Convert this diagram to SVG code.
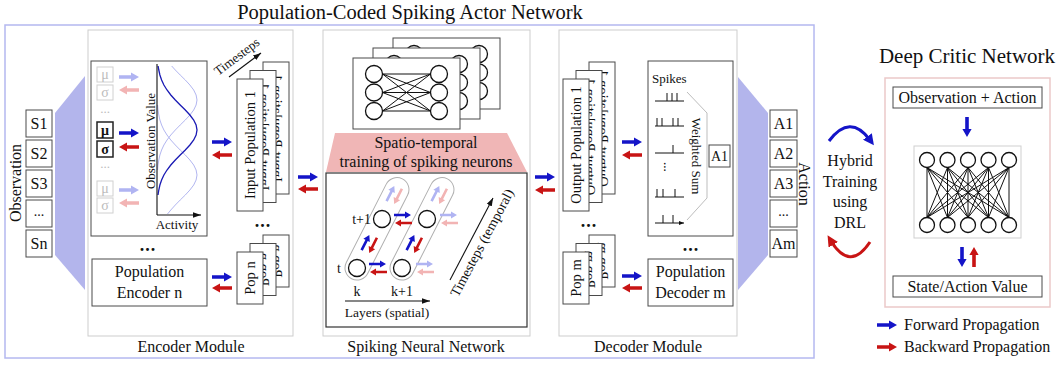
<svg xmlns="http://www.w3.org/2000/svg" width="1063" height="366" viewBox="0 0 1063 366">
<defs>
<style>
text{font-family:"Liberation Serif","Times New Roman",serif;fill:#111;font-size:16px}
.m{text-anchor:middle}
.e{text-anchor:end}
.bx{fill:#fff;stroke:#4a4a4a;stroke-width:1}
.mod{fill:none;stroke:#cdcdcd;stroke-width:1}
.lav{fill:#b3b5ec}
.b{fill:#1414c8}
.r{fill:#c81414}
.fb{fill:#b0b4f2}
.fr{fill:#f2b4b4}
.ax{stroke:#111;stroke-width:1.1;fill:none;marker-end:url(#mk)}
.s13{font-size:13px}
.s14{font-size:14px}
.pop{font-size:14.5px}
.nc{fill:#fff;stroke:#111;stroke-width:1.3}
.nl{stroke:#111;stroke-width:1;fill:none}
.fade{fill:#fff;stroke:#d0d0d0}
.ft{fill:#bcbcbc}
.dots{font-size:18px;font-weight:bold;letter-spacing:1px}
.gd{fill:none;stroke:#1a1ab4;stroke-width:1.3}
.gf{fill:none;stroke:#b2b6f0;stroke-width:1}
</style>
<path id="ar" d="M0,-1.8H12V-4.6L20,0L12,4.6V1.8H0Z"/>
<path id="as" d="M0,-1.3H11V-3.6L17,0L11,3.6V1.3H0Z"/>
<marker id="mk" viewBox="0 0 10 10" refX="10" refY="5" markerWidth="8" markerHeight="8" orient="auto" markerUnits="userSpaceOnUse"><path d="M0,1.5L10,5L0,8.5Z" fill="#111"/></marker>
<marker id="ms" viewBox="0 0 10 10" refX="10" refY="5" markerWidth="5" markerHeight="5" orient="auto" markerUnits="userSpaceOnUse"><path d="M0,1L10,5L0,9Z" fill="#111"/></marker>
<marker id="mb" viewBox="0 0 10 10" refX="4" refY="5" markerWidth="11" markerHeight="11" orient="auto" markerUnits="userSpaceOnUse"><path d="M0,0L10,5L0,10Z" fill="#1414c8"/></marker>
<marker id="mr" viewBox="0 0 10 10" refX="4" refY="5" markerWidth="11" markerHeight="11" orient="auto" markerUnits="userSpaceOnUse"><path d="M0,0L10,5L0,10Z" fill="#c81414"/></marker>
<g id="card">
<rect class="bx" x="0" y="0" width="107" height="71"/>
<path class="nl" d="M29.5,16L77.5,16M29.5,16L77.5,34.5M29.5,16L77.5,53M29.5,34.5L77.5,16M29.5,34.5L77.5,34.5M29.5,34.5L77.5,53M29.5,53L77.5,16M29.5,53L77.5,34.5M29.5,53L77.5,53"/>
<circle class="nc" cx="21" cy="16" r="8.5"/><circle class="nc" cx="21" cy="34.5" r="8.5"/><circle class="nc" cx="21" cy="53" r="8.5"/>
<circle class="nc" cx="86" cy="16" r="8.5"/><circle class="nc" cx="86" cy="34.5" r="8.5"/><circle class="nc" cx="86" cy="53" r="8.5"/>
</g>
</defs>
<rect x="0" y="0" width="1063" height="366" fill="#fff"/>

<text class="m" x="410" y="19" style="font-size:20.5px">Population-Coded Spiking Actor Network</text>
<rect x="5" y="25" width="809" height="333" fill="none" stroke="#b4b8f0" stroke-width="1.5"/>

<g id="observation">
<text class="m" transform="translate(21,183) rotate(-90)">Observation</text>
<rect class="bx" x="26" y="110" width="26" height="27"/><text class="m" x="39" y="129">S1</text>
<rect class="bx" x="26" y="140" width="26" height="27"/><text class="m" x="39" y="159">S2</text>
<rect class="bx" x="26" y="170" width="26" height="27"/><text class="m" x="39" y="189">S3</text>
<rect class="bx" x="26" y="200" width="26" height="27"/><text class="m s14" x="39" y="216">...</text>
<rect class="bx" x="26" y="230" width="26" height="27"/><text class="m" x="39" y="249">Sn</text>
<polygon class="lav" points="55,113 85,76 85,290 55,255"/>
</g>

<g id="encoder-module">
<rect class="mod" x="88" y="30" width="205" height="306"/>
<text class="m" x="191" y="352">Encoder Module</text>
</g>

<g id="population-encoder-1">
<rect class="bx" x="91" y="61" width="116" height="175"/>
<rect class="fade" x="97" y="67" width="16" height="15"/><text class="m s14 ft" x="105" y="79">μ</text>
<rect class="fade" x="97" y="85" width="16" height="15"/><text class="m s14 ft" x="105" y="97">σ</text>
<text class="m s13 ft" x="105" y="113">...</text>
<rect x="97" y="122" width="16" height="16" fill="#fff" stroke="#222" stroke-width="1.5"/><text class="m s14" x="105" y="135" font-weight="bold">μ</text>
<rect x="97" y="141" width="16" height="16" fill="#fff" stroke="#222" stroke-width="1.5"/><text class="m s14" x="105" y="154" font-weight="bold">σ</text>
<text class="m s13 ft" x="105" y="168">...</text>
<rect class="fade" x="97" y="181" width="16" height="15"/><text class="m s14 ft" x="105" y="193">μ</text>
<rect class="fade" x="97" y="198" width="16" height="15"/><text class="m s14 ft" x="105" y="210">σ</text>
<use href="#ar" class="fb" transform="translate(119,77)"/>
<use href="#ar" class="fr" transform="translate(139,90) rotate(180)"/>
<use href="#ar" class="b" transform="translate(119,133)"/>
<use href="#ar" class="r" transform="translate(139,147) rotate(180)"/>
<use href="#ar" class="fb" transform="translate(119,190)"/>
<use href="#ar" class="fr" transform="translate(139,203) rotate(180)"/>
<polyline class="gf" points="171.7,66 175.3,70 180.2,75 185.3,80 189.9,85 193.7,90 196.1,95 197,100 196.1,105 193.7,110 189.9,115 185.3,120 180.2,125 175.3,130 170.8,135 167,140 163.9,145 161.6,150 159.9,155 158.8,160 158,165 157.6,170"/>
<polyline class="gf" points="157.6,105 158,110 158.8,115 159.9,120 161.6,125 163.9,130 167,135 170.8,140 175.3,145 180.2,150 185.3,155 189.9,160 193.7,165 196.1,170 197,175 196.1,180 193.7,185 189.9,190 185.3,195 180.2,200 175.3,205 170.8,210 167.5,214"/>
<polyline class="gd" points="158.1,66 158.8,70 159.9,75 161.6,80 163.9,85 167,90 170.8,95 175.3,100 180.2,105 185.3,110 189.9,115 193.7,120 196.1,125 197,130 196.1,135 193.7,140 189.9,145 185.3,150 180.2,155 175.3,160 170.8,165 167,170 163.9,175 161.6,180 159.9,185 158.8,190 158,195"/>
<path d="M157,64V215" stroke="#111" stroke-width="1.1" fill="none"/>
<path class="ax" d="M157,215H201"/>
<text class="m s13" transform="translate(155,141) rotate(-90)">Observation Value</text>
<text class="m s13" x="177" y="229">Activity</text>
</g>

<g id="input-population-1">
<rect class="bx" x="263" y="62" width="26" height="132"/>
<text class="m pop" transform="translate(271.5,128) scale(-1,1) rotate(-90)">Input Population 1</text>
<rect class="bx" x="250" y="70.5" width="26" height="132"/>
<text class="m pop" transform="translate(258.5,136.5) scale(-1,1) rotate(-90)">Input Population 1</text>
<rect class="bx" x="237" y="79" width="26" height="132"/>
<text class="m pop" transform="translate(255,145) rotate(-90)">Input Population 1</text>
<text class="m s13" transform="translate(239.5,60) rotate(-37)">Timesteps</text>
<path class="ax" d="M229,77L261,53"/>
</g>

<g id="encoder-dots">
<text class="m dots" x="263" y="227">...</text>
<text class="m dots" x="148" y="251">...</text>
</g>

<g id="population-encoder-n">
<rect class="bx" x="92" y="259" width="115" height="47"/>
<text class="m" x="149.5" y="277">Population</text>
<text class="m" x="149.5" y="298">Encoder n</text>
</g>

<g id="pop-n">
<rect class="bx" x="263" y="235" width="26" height="52"/>
<text class="m pop" transform="translate(271.5,261) scale(-1,1) rotate(-90)">Pop n</text>
<rect class="bx" x="250" y="243.5" width="26" height="52"/>
<text class="m pop" transform="translate(258.5,269.5) scale(-1,1) rotate(-90)">Pop n</text>
<rect class="bx" x="237" y="252" width="26" height="52"/>
<text class="m pop" transform="translate(255,278) rotate(-90)">Pop n</text>
</g>

<g id="snn-module">
<rect class="mod" x="323" y="30" width="207" height="306"/>
<text class="m" x="426" y="352">Spiking Neural Network</text>
</g>

<g id="network-cards">
<use href="#card" x="393" y="38"/>
<use href="#card" x="373" y="48"/>
<use href="#card" x="353" y="58"/>
</g>

<g id="spatio-temporal-training">
<polygon points="335,133 507,133 527,172 326,172" fill="#f0b6b6"/>
<text class="m" x="426" y="148">Spatio-temporal</text>
<text class="m" x="426" y="167">training of spiking neurons</text>
</g>

<g id="snn-unrolled">
<rect x="326" y="173" width="201" height="154" fill="#fff" stroke="#333" stroke-width="1.2"/>
<g transform="translate(357,268) rotate(27)">
<rect x="-12" y="-100" width="24" height="112" rx="12" fill="none" stroke="#b0b0b0"/>
<use href="#as" class="b" transform="translate(-4,-18) rotate(-90)"/>
<use href="#as" class="r" transform="translate(4,-36) rotate(90)"/>
<use href="#as" class="fb" transform="translate(-4,-73) rotate(-90)"/>
<use href="#as" class="fr" transform="translate(4,-91) rotate(90)"/>
</g>
<g transform="translate(402,268) rotate(27)">
<rect x="-12" y="-100" width="24" height="112" rx="12" fill="none" stroke="#b0b0b0"/>
<use href="#as" class="b" transform="translate(-4,-18) rotate(-90)"/>
<use href="#as" class="r" transform="translate(4,-36) rotate(90)"/>
<use href="#as" class="fb" transform="translate(-4,-73) rotate(-90)"/>
<use href="#as" class="fr" transform="translate(4,-91) rotate(90)"/>
</g>
<circle class="nc" cx="357" cy="268" r="8.5" stroke-width="1.5"/>
<circle class="nc" cx="402" cy="268" r="8.5" stroke-width="1.5"/>
<circle class="nc" cx="382" cy="219" r="8.5" stroke-width="1.5"/>
<circle class="nc" cx="427" cy="219" r="8.5" stroke-width="1.5"/>
<use href="#as" class="b" transform="translate(369,264)"/>
<use href="#as" class="r" transform="translate(387,272) rotate(180)"/>
<use href="#as" class="b" transform="translate(394,215)"/>
<use href="#as" class="r" transform="translate(412,223) rotate(180)"/>
<use href="#as" class="fb" transform="translate(416,264)"/>
<use href="#as" class="fr" transform="translate(434,272) rotate(180)"/>
<use href="#as" class="fb" transform="translate(440,215)"/>
<use href="#as" class="fr" transform="translate(458,223) rotate(180)"/>
<text class="e s14" x="371" y="224">t+1</text>
<text class="m s14" x="339" y="273">t</text>
<text class="m s14" x="357" y="296">k</text>
<text class="m s14" x="402" y="296">k+1</text>
<path class="ax" d="M345,301H430"/>
<text class="m" x="387" y="317" style="font-size:13.5px">Layers (spatial)</text>
<path class="ax" d="M450,280L493,198"/>
<text class="m s14" transform="translate(486,245) rotate(-62)">Timesteps (temporal)</text>
</g>

<g id="decoder-module">
<rect class="mod" x="559" y="30" width="178" height="306"/>
<text class="m" x="648" y="352">Decoder Module</text>
</g>

<g id="output-population-1">
<rect class="bx" x="589" y="62" width="26" height="132"/>
<text class="m pop" transform="translate(597.5,128) scale(-1,1) rotate(-90)">Output Population 1</text>
<rect class="bx" x="576" y="70.5" width="26" height="132"/>
<text class="m pop" transform="translate(584.5,136.5) scale(-1,1) rotate(-90)">Output Population 1</text>
<rect class="bx" x="563" y="79" width="26" height="132"/>
<text class="m pop" transform="translate(581,145) rotate(-90)">Output Population 1</text>
</g>

<g id="decoder-dots">
<text class="m dots" x="589" y="227">...</text>
<text class="m dots" x="691" y="251">...</text>
</g>

<g id="pop-m">
<rect class="bx" x="589" y="235" width="26" height="52"/>
<text class="m pop" transform="translate(597.5,261) scale(-1,1) rotate(-90)">Pop m</text>
<rect class="bx" x="576" y="243.5" width="26" height="52"/>
<text class="m pop" transform="translate(584.5,269.5) scale(-1,1) rotate(-90)">Pop m</text>
<rect class="bx" x="563" y="252" width="26" height="52"/>
<text class="m pop" transform="translate(581,278) rotate(-90)">Pop m</text>
</g>

<g id="population-decoder-1">
<rect class="bx" x="648" y="61" width="85" height="175"/>
<text class="s13" x="652" y="83">Spikes</text>
<path d="M655,101H684M655,126H684M655,153H684M655,197H684M655,223H684" stroke="#111" stroke-width="1" fill="none" marker-end="url(#ms)"/>
<path d="M667,93V101M672,93V101M677,93V101M657,118V126M662,118V126M673,118V126M678,118V126M673,145V153M657,189V197M663,189V197M675,189V197M663,215V223M673,215V223" stroke="#111" stroke-width="1" fill="none"/>
<text class="s13" transform="translate(664,162) rotate(90)">...</text>
<polyline points="687,92 707,113 707,198 687,220" fill="none" stroke="#bdbdbd"/>
<text class="m s13" transform="translate(692,156) rotate(90)">Weighted Sum</text>
<rect class="bx" x="709" y="145" width="21" height="22"/>
<text class="m s14" x="719.5" y="161">A1</text>
</g>

<g id="population-decoder-m">
<rect class="bx" x="648" y="259" width="85" height="47"/>
<text class="m" x="690.5" y="277">Population</text>
<text class="m" x="690.5" y="298">Decoder m</text>
</g>

<g id="action">
<polygon class="lav" points="738,77 768,113 768,255 738,290"/>
<rect class="bx" x="770" y="110" width="27" height="27"/><text class="m" x="783.5" y="129">A1</text>
<rect class="bx" x="770" y="140" width="27" height="27"/><text class="m" x="783.5" y="159">A2</text>
<rect class="bx" x="770" y="170" width="27" height="27"/><text class="m" x="783.5" y="189">A3</text>
<rect class="bx" x="770" y="200" width="27" height="27"/><text class="m s14" x="783.5" y="216">...</text>
<rect class="bx" x="770" y="230" width="27" height="27"/><text class="m" x="783.5" y="249">Am</text>
<text class="m" transform="translate(799,184) rotate(90)">Action</text>
</g>

<g id="connectors">
<use href="#ar" class="b" transform="translate(212,142)"/>
<use href="#ar" class="r" transform="translate(232,155) rotate(180)"/>
<use href="#ar" class="b" transform="translate(212,277)"/>
<use href="#ar" class="r" transform="translate(232,288) rotate(180)"/>
<use href="#ar" class="b" transform="translate(298,177)"/>
<use href="#ar" class="r" transform="translate(318,189) rotate(180)"/>
<use href="#ar" class="b" transform="translate(535,177)"/>
<use href="#ar" class="r" transform="translate(555,190) rotate(180)"/>
<use href="#ar" class="b" transform="translate(622,142)"/>
<use href="#ar" class="r" transform="translate(642,155) rotate(180)"/>
<use href="#ar" class="b" transform="translate(622,276)"/>
<use href="#ar" class="r" transform="translate(642,288) rotate(180)"/>
<path d="M829,141Q850,113 870,140" fill="none" stroke="#1414c8" stroke-width="3" marker-end="url(#mb)"/>
<path d="M870,242Q850,272 831,241" fill="none" stroke="#c81414" stroke-width="3" marker-end="url(#mr)"/>
<use href="#ar" class="b" transform="translate(967,117) rotate(90)"/>
<use href="#ar" class="b" transform="translate(962,247) rotate(90)"/>
<use href="#ar" class="r" transform="translate(974,267) rotate(-90)"/>
</g>

<g id="hybrid-training">
<text class="m" x="850" y="166">Hybrid</text>
<text class="m" x="850" y="186.5">Training</text>
<text class="m" x="850" y="207">using</text>
<text class="m" x="850" y="227.5">DRL</text>
</g>

<g id="deep-critic-network">
<text class="m" x="967" y="63" style="font-size:21px">Deep Critic Network</text>
<rect x="885" y="78" width="165" height="229" fill="none" stroke="#ebc9c9" stroke-width="1.5"/>
</g>

<g id="observation-action">
<rect class="bx" x="893" y="87" width="149" height="21"/>
<text class="m" x="967.5" y="103">Observation + Action</text>
</g>

<g id="critic-network">
<rect x="914" y="146" width="107" height="92" fill="#fff" stroke="#cfcfcf"/>
<path class="nl" stroke-width="1.1" d="M927,167.5L927,217.5M927,167.5L947.5,217.5M927,167.5L968,217.5M927,167.5L988.5,217.5M927,167.5L1009,217.5M947.5,167.5L927,217.5M947.5,167.5L947.5,217.5M947.5,167.5L968,217.5M947.5,167.5L988.5,217.5M947.5,167.5L1009,217.5M968,167.5L927,217.5M968,167.5L947.5,217.5M968,167.5L968,217.5M968,167.5L988.5,217.5M968,167.5L1009,217.5M988.5,167.5L927,217.5M988.5,167.5L947.5,217.5M988.5,167.5L968,217.5M988.5,167.5L988.5,217.5M988.5,167.5L1009,217.5M1009,167.5L927,217.5M1009,167.5L947.5,217.5M1009,167.5L968,217.5M1009,167.5L988.5,217.5M1009,167.5L1009,217.5"/>
<circle class="nc" cx="927" cy="160" r="7.5"/><circle class="nc" cx="947.5" cy="160" r="7.5"/><circle class="nc" cx="968" cy="160" r="7.5"/><circle class="nc" cx="988.5" cy="160" r="7.5"/><circle class="nc" cx="1009" cy="160" r="7.5"/>
<circle class="nc" cx="927" cy="225" r="7.5"/><circle class="nc" cx="947.5" cy="225" r="7.5"/><circle class="nc" cx="968" cy="225" r="7.5"/><circle class="nc" cx="988.5" cy="225" r="7.5"/><circle class="nc" cx="1009" cy="225" r="7.5"/>
</g>

<g id="state-action-value">
<rect class="bx" x="893" y="276" width="149" height="21"/>
<text class="m" x="967.5" y="292">State/Action Value</text>
</g>

<g id="legend">
<use href="#ar" class="b" transform="translate(877,325)"/>
<text x="904" y="330">Forward Propagation</text>
<use href="#ar" class="r" transform="translate(877,347)"/>
<text x="904" y="352">Backward Propagation</text>
</g>
</svg>
